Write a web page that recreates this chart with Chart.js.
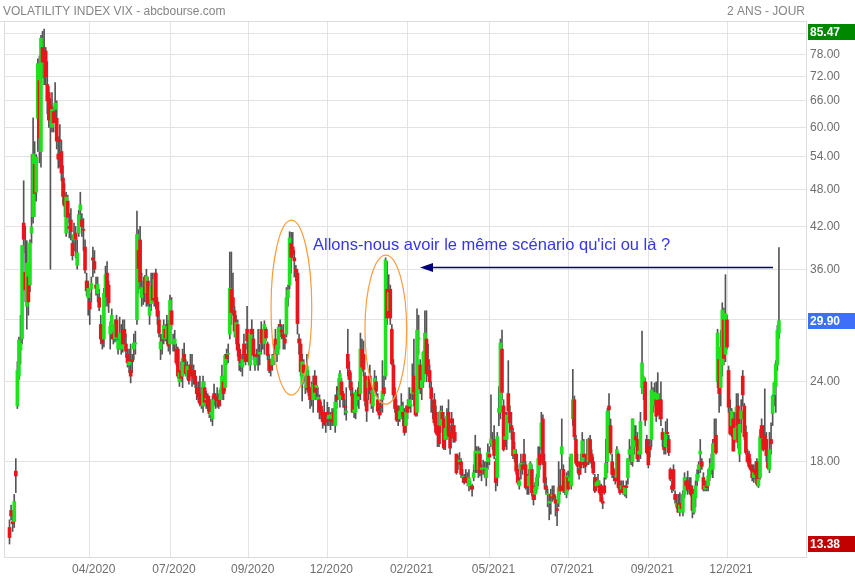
<!DOCTYPE html>
<html lang="fr">
<head>
<meta charset="UTF-8">
<title>Volatility Index VIX</title>
<script src="https://cdn.jsdelivr.net/npm/chart.js"></script>
<style>
body {
    margin: 0;
    background: #ffffff;
    overflow: hidden;
}
#vixChart {
    display: block;
}
</style>
</head>
<body>
<canvas id="vixChart" width="855" height="580"></canvas>

<script>
// daily candles, one row per session: [open, high, low, close]
const feb20 = [
[14.2,14.6,13.38,13.7],[15.1,15.4,14.6,14.8],[14.5,15.1,14.0,14.4],[14.5,16.0,14.2,15.6],[17.4,18.2,16.1,17.1],
[22.0,25.8,21.8,25.0],[24.5,28.2,24.2,27.9],[26.9,30.5,25.6,27.6],[28.0,39.2,27.5,39.2],[42.5,49.5,38.2,40.1]];
const mar20 = [
[35.6,42.0,32.0,33.4],[31.5,39.9,29.0,36.8],[35.0,35.4,30.5,32.0],[34.0,40.0,33.2,39.6],[41.0,54.4,39.5,41.9],
[43.5,62.1,42.5,54.5],[52.5,57.0,43.5,47.3],[47.5,54.4,46.0,53.9],[62.0,76.8,55.0,75.5],[71.0,77.6,52.8,57.8],
[55.0,83.6,52.0,82.7],[80.0,84.8,71.7,75.9],[77.0,85.47,70.0,76.5],[79.0,80.0,69.9,72.0],[70.0,76.0,63.0,66.0],
[68.0,69.5,60.0,61.6],[65.0,66.5,36.0,61.7],[60.0,68.0,59.0,64.0],[63.5,64.6,59.0,61.0],[64.0,70.5,61.0,65.5],
[62.0,66.0,55.5,57.1],[54.5,58.0,51.8,53.5]];
const apr20 = [
[57.4,60.6,52.0,57.1],[55.0,57.2,49.5,50.9],[50.0,52.3,45.5,46.8],[47.0,49.0,43.5,45.2],[41.0,47.5,40.5,46.7],
[46.0,47.0,42.5,43.4],[42.0,44.0,40.3,41.7],[43.0,44.8,40.0,41.2],[39.5,40.7,37.2,37.8],[40.0,42.5,38.5,40.8],
[41.0,42.0,37.5,40.1],[36.5,40.0,36.0,38.2],[41.0,44.5,40.5,43.8],[44.5,47.5,42.0,45.4],[43.0,44.0,40.5,42.0],
[41.5,43.2,38.5,41.4],[39.0,40.0,35.5,35.9],[34.5,35.5,32.7,33.3],[32.5,34.5,30.5,33.6],[32.0,33.0,29.5,31.2],
[33.5,35.0,32.0,34.2]];
const may20 = [
[37.5,39.0,35.0,37.2],[37.0,38.5,35.5,36.0],[34.0,35.0,32.8,33.6],[33.0,35.0,32.0,34.1],[32.5,33.5,31.0,31.4],
[29.5,30.5,27.5,28.0],[29.0,29.5,27.0,27.6],[28.0,33.6,27.2,33.0],[32.8,36.4,31.5,35.3],[35.5,37.0,31.5,32.6],
[34.0,34.5,30.8,31.9],[28.5,29.8,27.0,29.3],[28.8,31.2,28.0,30.5],[28.5,29.5,27.5,28.0],[28.0,30.0,27.7,29.5],
[30.0,30.5,27.8,28.2],[27.0,28.5,26.5,27.9],[28.0,30.3,27.0,28.6],[27.0,29.5,26.5,28.1],[28.9,30.0,26.7,27.5]];
const jun20 = [
[29.0,30.0,27.5,28.2],[27.5,28.5,26.2,26.8],[26.5,27.0,25.3,25.7],[25.5,27.0,24.8,25.8],[25.0,27.5,23.9,24.5],
[26.0,26.5,24.8,25.8],[27.0,28.5,26.0,27.6],[27.5,28.8,26.5,27.6],[30.0,44.4,29.5,40.8],[38.5,41.5,33.0,36.1],
[40.0,42.0,33.5,34.4],[32.5,35.5,31.5,33.7],[33.5,34.5,31.7,33.5],[35.0,35.2,32.0,32.9],[33.0,36.0,31.5,35.1],
[34.5,35.0,31.5,31.8],[30.5,32.5,29.5,31.4],[31.8,35.5,31.0,33.8],[34.0,35.5,32.0,32.2],[32.5,35.5,31.5,34.7],
[35.5,36.0,31.2,31.8],[32.0,32.5,29.5,30.4]];
const jul20 = [
[30.0,31.0,28.2,28.6],[27.0,28.5,26.0,27.7],[28.0,28.5,26.5,27.9],[28.0,30.0,27.5,29.4],[29.0,29.5,27.8,28.1],
[28.0,30.5,27.5,29.3],[29.5,30.0,26.8,27.3],[27.5,32.8,26.5,32.2],[31.0,32.5,29.0,29.5],[27.5,28.5,26.8,27.8],
[27.5,28.9,26.8,28.0],[27.0,27.5,25.5,25.7],[27.0,27.2,24.3,24.5],[24.0,25.0,23.6,24.8],[25.0,25.8,24.0,24.3],
[24.5,27.0,23.5,26.1],[26.5,27.6,25.5,25.8],[25.5,26.0,24.5,24.7],[24.5,25.8,24.2,25.4],[25.0,25.5,23.8,24.1],
[25.5,26.5,24.5,24.8],[25.0,26.5,23.6,24.5]];
const aug20 = [
[25.0,25.5,23.8,24.3],[24.5,25.0,23.5,23.8],[23.5,24.0,22.5,23.0],[23.5,24.0,22.3,22.7],[23.0,24.5,22.0,22.2],
[22.5,23.5,21.8,22.1],[22.0,24.5,21.5,24.0],[23.5,24.0,22.0,22.3],[22.5,23.2,21.8,22.6],[22.8,23.0,21.6,22.1],
[22.5,22.8,21.1,21.4],[21.3,22.5,20.8,21.5],[21.0,22.8,20.5,22.5],[23.0,23.8,22.0,22.7],[22.8,23.0,21.8,22.5],
[22.5,23.5,21.9,22.4],[22.5,23.0,21.8,22.0],[22.5,23.5,22.0,23.3],[23.0,25.5,22.5,24.5],[24.0,24.5,22.5,23.0],
[23.5,26.5,23.2,26.4]];
const sep20 = [
[26.5,27.0,25.5,26.1],[26.5,27.5,25.7,26.6],[28.5,38.3,28.0,33.6],[33.5,38.3,29.5,30.8],[32.5,35.5,30.5,31.5],
[31.0,31.5,28.2,28.8],[28.2,30.5,27.5,29.7],[29.5,30.0,26.3,26.9],[27.0,27.5,25.0,25.9],[25.5,26.5,24.9,25.6],
[25.3,26.5,24.5,26.0],[27.5,28.5,26.0,26.5],[26.5,27.5,25.5,25.8],[29.0,31.5,27.0,27.8],[27.5,28.0,25.5,25.8],
[25.5,29.0,25.0,28.6],[29.0,30.0,27.5,28.5],[28.0,29.0,26.0,26.4],[25.5,26.5,25.0,26.2],[26.5,27.0,25.5,26.3],
[26.5,29.0,25.0,26.4]];
const oct20 = [
[26.5,27.5,25.5,26.7],[29.0,29.8,26.5,27.6],[28.2,28.8,27.0,28.0],[27.5,29.9,26.5,29.5],[29.0,29.2,27.8,28.1],
[27.5,27.7,26.0,26.4],[26.0,26.5,24.8,25.0],[25.5,26.0,24.5,25.1],[25.5,26.5,25.0,26.1],[26.0,27.5,25.5,26.4],
[28.0,29.0,26.5,27.0],[26.5,27.6,25.8,27.4],[27.0,29.5,26.5,29.2],[29.5,30.0,28.2,29.4],[28.9,29.4,28.0,28.7],
[28.5,29.5,27.0,28.1],[28.0,28.5,27.0,27.6],[28.5,33.7,28.2,32.5],[32.5,34.0,31.5,33.4],[34.0,41.2,33.5,40.3],
[39.5,41.1,35.5,37.6],[39.0,41.1,37.5,38.0]];
const nov20 = [
[37.5,38.5,35.0,37.1],[36.0,36.5,34.5,35.6],[35.5,36.0,28.5,29.6],[28.0,28.5,26.5,27.6],[27.5,28.0,24.5,24.9],
[23.8,26.5,22.4,25.8],[25.5,26.0,24.0,24.8],[23.5,24.5,23.0,23.5],[23.5,26.5,23.3,25.4],[24.5,25.0,22.8,23.1],
[23.0,23.5,21.8,22.5],[23.5,24.0,22.0,22.7],[22.5,24.5,21.5,23.8],[24.5,25.0,22.5,23.1],[23.5,24.5,22.5,23.7],
[22.5,23.5,21.5,22.7],[22.5,22.9,21.0,21.6],[22.0,22.3,21.0,21.3],[21.5,21.7,20.3,20.8],[21.5,22.5,20.5,20.6]];
const dec20 = [
[21.0,21.5,20.0,20.8],[21.5,22.3,20.5,21.2],[21.0,21.9,20.5,21.3],[21.0,21.5,20.2,20.8],[21.0,21.8,20.5,21.3],
[21.5,21.8,20.5,20.7],[20.5,22.9,20.0,22.3],[22.8,23.6,21.8,22.5],[23.5,24.3,22.5,23.3],[22.5,25.0,21.9,24.7],
[24.0,24.3,22.5,22.9],[23.0,23.2,21.9,22.5],[22.0,22.5,21.3,21.9],[21.5,23.5,20.9,21.6],[26.5,29.0,24.5,25.2],
[25.0,25.8,23.5,24.2],[24.0,24.8,22.8,23.3],[23.0,23.5,21.5,21.5],[21.5,22.5,21.1,21.7],[21.5,23.3,21.0,23.1],
[22.5,23.0,22.0,22.8],[23.5,24.0,21.8,22.8]];
const jan21 = [
[23.0,28.6,22.5,27.0],[27.0,28.0,24.9,25.3],[26.5,27.8,24.5,25.1],[24.5,24.8,22.0,22.4],[22.5,23.5,20.8,21.6],
[23.5,24.5,22.5,24.1],[24.5,25.5,23.0,23.3],[23.0,23.5,21.8,22.2],[22.0,23.5,21.5,23.3],[23.5,25.0,23.0,24.3],
[24.0,24.5,22.8,23.2],[22.5,23.0,21.5,21.6],[21.5,22.2,21.0,21.3],[22.0,22.5,21.3,21.9],[22.5,25.9,21.5,23.2],
[23.5,24.5,22.8,23.0],[24.5,37.5,24.2,37.2],[33.5,37.0,29.5,30.2],[31.0,35.3,30.5,33.1]];
const feb21 = [
[33.5,34.0,29.5,30.2],[29.0,29.5,25.5,25.6],[25.5,26.0,22.5,22.9],[23.0,23.5,21.5,21.8],[22.0,22.5,20.8,20.9],
[21.5,22.0,20.5,21.2],[21.0,22.0,20.8,21.6],[21.5,23.0,21.0,22.0],[21.5,22.3,20.5,21.3],[21.5,21.8,19.8,20.0],
[20.5,22.0,20.0,21.5],[22.0,22.5,21.0,21.5],[22.0,23.5,21.8,22.5],[22.0,23.0,21.5,22.1],[23.0,25.6,22.5,23.5],
[24.5,28.0,22.0,23.1],[23.0,23.5,21.2,21.3],[21.5,31.2,21.2,28.9],[28.0,30.5,26.5,28.0]];
const mar21 = [
[25.5,26.0,23.0,23.4],[23.5,24.5,22.5,24.1],[24.0,26.8,23.5,26.7],[26.5,31.0,25.5,28.6],[28.0,31.0,24.0,24.7],
[26.0,27.5,24.5,25.5],[25.0,25.5,23.5,24.0],[23.5,24.0,21.5,22.6],[22.0,22.5,21.0,21.9],[22.5,23.0,20.5,20.7],
[21.5,22.0,19.9,20.0],[20.0,20.5,19.0,19.8],[20.5,21.5,19.0,19.2],[20.5,22.0,20.0,21.6],[21.5,22.0,20.5,21.0],
[21.0,21.5,18.8,18.9],[19.5,21.0,18.8,20.3],[20.0,21.8,19.5,21.2],[21.5,22.5,19.7,19.8],[20.0,20.5,18.5,18.9],
[21.0,21.5,20.0,20.7],[20.5,21.0,19.3,19.6],[20.0,20.5,19.3,19.4]];
const apr21 = [
[18.5,18.5,17.2,17.3],[18.0,18.4,17.5,17.9],[18.0,18.6,17.8,18.1],[18.0,18.2,17.0,17.2],[17.0,17.5,16.7,17.0],
[17.0,17.2,16.6,16.7],[17.0,17.5,16.7,16.9],[17.0,17.3,16.5,16.7],[16.5,17.5,16.2,17.0],[16.5,16.8,16.3,16.6],
[16.5,16.6,15.9,16.3],[17.0,17.8,16.8,17.3],[17.5,19.8,17.3,18.7],[18.5,19.0,17.3,17.5],[17.5,19.0,17.0,18.7],
[18.5,18.9,17.1,17.3],[17.5,17.8,16.8,17.6],[17.5,18.1,17.2,17.6],[17.5,18.0,17.0,17.3],[17.0,18.0,16.5,17.6],
[18.0,19.2,17.5,18.6]];
const may21 = [
[18.5,19.0,17.8,18.3],[19.2,22.9,19.0,19.5],[19.0,20.0,18.8,19.2],[19.5,20.5,18.2,18.4],[18.0,18.2,16.2,16.7],
[17.0,20.0,16.5,19.7],[21.5,23.6,20.5,21.8],[21.5,28.0,21.0,27.6],[27.0,28.9,22.5,23.1],[22.0,22.5,18.7,18.8],
[19.5,21.5,19.0,19.7],[19.5,21.5,18.8,21.3],[23.0,25.9,21.0,21.6],[21.5,22.0,20.0,20.7],[20.5,21.5,19.5,20.2],
[20.0,20.3,18.2,18.4],[18.5,19.3,18.0,18.8],[18.5,18.8,17.2,17.4],[17.5,17.8,16.6,16.7],[16.5,17.0,16.3,16.8]];
const jun21 = [
[17.5,18.5,16.9,17.9],[17.8,18.0,17.2,17.5],[18.5,19.5,17.8,18.0],[17.8,18.0,16.3,16.4],[16.5,17.2,16.0,16.4],
[16.5,17.5,16.0,17.1],[17.0,18.0,16.8,17.9],[17.5,17.8,15.9,16.1],[16.0,16.5,15.4,15.7],[16.0,16.7,15.7,16.4],
[16.3,17.2,16.1,17.0],[17.0,19.0,16.5,18.2],[18.5,19.0,17.5,17.8],[19.0,21.5,18.8,20.7],[21.0,21.3,17.8,17.9],
[18.0,18.5,16.3,16.7],[16.5,17.0,16.0,16.3],[16.0,16.3,15.3,16.0],[15.5,16.0,14.6,15.6],[16.0,16.3,14.9,15.8],
[15.9,16.5,15.6,16.0],[16.0,16.5,15.7,15.8]];
const jul21 = [
[15.7,15.9,14.8,15.5],[15.2,15.5,14.3,15.1],[15.5,18.0,15.3,16.4],[16.5,17.5,16.0,16.2],[18.5,21.0,17.5,19.0],
[17.5,17.8,16.1,16.2],[16.5,16.8,16.0,16.2],[16.0,17.3,15.8,17.1],[17.0,17.4,16.2,16.3],[16.8,18.3,16.5,17.0],
[16.5,18.5,16.3,18.5],[21.0,25.1,20.5,22.5],[22.5,22.8,19.5,19.7],[19.5,19.8,17.8,17.9],[18.0,18.5,17.3,17.7],
[17.5,17.6,16.9,17.2],[18.0,18.5,17.2,17.6],[18.0,20.0,17.8,19.4],[18.5,19.5,17.6,18.3],[18.0,18.3,17.3,17.7],
[18.5,19.5,17.8,18.2]];
const aug21 = [
[18.0,19.6,17.8,19.5],[19.5,19.8,17.9,18.0],[18.5,18.8,17.6,18.0],[18.0,18.3,17.2,17.3],[17.0,17.2,16.1,16.2],
[16.5,17.0,16.2,16.7],[16.5,17.2,16.4,16.8],[16.5,16.8,16.0,16.1],[16.5,16.6,15.6,15.6],[15.6,15.8,15.2,15.5],
[16.5,17.0,16.0,16.1],[17.0,19.5,16.9,17.9],[18.0,21.8,17.3,21.6],[22.0,23.0,20.5,21.7],[20.5,21.0,18.5,18.6],
[18.0,18.5,17.0,17.2],[17.5,17.6,16.8,17.2],[17.0,17.3,16.6,16.8],[17.0,19.0,16.8,18.8],[18.5,18.6,16.3,16.4],
[16.5,16.8,16.0,16.1],[16.3,16.8,16.1,16.5]];
const sep21 = [
[16.5,16.8,16.0,16.1],[16.0,16.5,15.9,16.4],[16.5,16.8,15.8,16.4],[17.0,18.2,16.6,18.2],[18.5,19.5,18.0,18.8],
[18.5,19.0,17.8,18.7],[18.0,21.0,17.7,21.0],[19.0,20.5,18.5,19.4],[19.7,20.5,19.0,19.5],[19.5,20.0,18.0,18.2],
[18.5,19.0,18.0,18.7],[18.5,21.5,18.2,20.8],[23.5,28.8,23.0,25.7],[23.0,24.5,22.5,24.4],[24.0,24.3,20.5,20.9],
[19.5,19.8,18.5,18.6],[19.0,19.5,17.6,17.8],[19.0,19.5,18.3,18.8],[19.5,24.0,19.0,23.3],[22.0,23.5,21.5,22.6],
[22.5,23.9,22.0,23.1]];
const oct21 = [
[22.5,24.0,20.8,21.2],[22.5,24.8,21.5,23.0],[22.5,23.0,21.0,21.3],[22.5,24.0,20.5,21.0],[20.0,20.3,19.0,19.5],
[19.0,19.5,18.5,18.8],[19.0,20.8,18.5,20.0],[20.0,21.0,19.3,19.9],[19.5,19.8,18.4,18.6],[17.5,17.6,16.8,16.9],
[16.5,16.8,16.1,16.3],[17.5,17.8,16.2,16.3],[16.0,16.2,15.5,15.7],[15.3,16.0,15.2,15.5],[15.5,16.0,15.0,15.0],
[15.0,16.1,14.8,15.4],[15.5,16.0,15.1,15.2],[15.0,16.2,14.8,16.0],[16.0,17.3,15.8,17.0],[16.8,17.0,16.2,16.5],
[16.8,17.4,16.0,16.3]];
const nov21 = [
[16.5,17.0,16.1,16.4],[16.5,17.0,15.9,16.0],[16.3,16.5,14.7,15.1],[15.0,16.2,14.9,16.0],[15.8,16.8,15.3,16.5],
[16.8,17.5,16.5,17.2],[17.5,18.0,17.0,17.8],[18.5,19.5,17.3,18.7],[18.0,18.2,17.5,17.7],[17.0,17.3,16.2,16.3],
[16.3,16.8,16.2,16.5],[16.5,16.8,16.2,16.4],[16.5,17.5,16.2,17.1],[17.0,18.2,16.8,17.6],[17.5,18.5,17.2,17.9],
[17.5,19.5,17.0,19.2],[19.5,21.0,19.0,19.4],[19.8,21.0,18.5,18.6],[24.0,29.0,23.5,28.6],[26.0,26.5,21.5,23.0],
[23.5,28.9,22.0,27.2]];
const dec21 = [
[25.5,31.9,24.5,31.1],[30.0,31.3,25.5,26.1],[26.5,35.3,25.8,30.7],[30.0,30.5,27.0,27.2],[25.0,25.4,21.5,21.9],
[21.5,22.5,19.8,19.9],[20.5,21.8,19.7,21.6],[21.0,21.5,18.7,18.7],[19.5,21.5,19.3,20.3],[21.5,23.0,20.5,21.9],
[22.0,23.0,18.9,19.3],[18.5,21.0,18.0,20.6],[21.0,22.5,20.0,21.6],[24.5,25.0,22.0,22.9],[22.0,22.2,19.5,19.7],
[20.0,20.5,18.5,18.6],[18.5,18.8,17.9,18.0],[18.5,18.7,17.6,17.7],[17.8,18.2,17.4,17.5],[17.5,17.8,16.8,17.0],
[17.0,17.8,16.7,17.3],[17.5,18.0,16.9,17.2]];
const jan22 = [
[18.0,18.2,16.5,16.6],[16.5,18.0,16.4,16.9],[17.0,20.2,16.9,19.7],[20.5,21.0,19.2,19.6],[19.5,20.5,18.7,18.8],
[19.8,23.4,19.0,19.4],[19.5,20.0,18.0,18.4],[18.0,18.5,17.5,17.6],[17.5,20.0,17.3,18.8],[19.5,20.7,18.5,19.2],
[21.4,22.9,20.5,22.8],[22.9,24.0,22.0,23.9],[23.6,25.9,21.5,25.6],[25.5,29.4,25.0,28.9],[28.6,38.9,28.0,29.9]];

// x axis: session index of each grid line and its label
const xTickIdx = [51, 102, 152, 202, 253, 305, 355, 406, 456];
const xTickLabels = ['04/2020','07/2020','09/2020','12/2020','02/2021','05/2021','07/2021','09/2021','12/2021'];
// y axis (log) grid values
const yTicks = [18, 24, 30, 36, 42, 48, 54, 60, 66, 72, 78, 84];

const upColor = '#1ee21e';
const downColor = '#e8161b';
const wickColor = '#555555';

const candles = [].concat(feb20, mar20, apr20, may20, jun20, jul20, aug20, sep20, oct20, nov20, dec20,
    jan21, feb21, mar21, apr21, may21, jun21, jul21, aug21, sep21, oct21, nov21, dec21, jan22);

const wicks = candles.map((c, i) => ({x: i, y: [c[2], c[1]]}));
const bodies = candles.map((c, i) => ({x: i, y: [c[0], c[3]]}));
const bodyColors = candles.map(c => c[3] >= c[0] ? upColor : downColor);

const maxHigh = Math.max(...candles.map(c => c[1]));
const minLow = Math.min(...candles.map(c => c[2]));
const lastClose = candles[candles.length - 1][3];

// annotation anchors, in session index / index value
const ellipses = [
    {x0: 166.2, x1: 192.1, top: 42.96, bottom: 22.88},
    {x0: 225.9, x1: 252.4, top: 37.88, bottom: 22.15}
];
const arrow = {from: 485.2, to: 260.9, value: 36.3};
const note = {text: "Allons-nous avoir le même scénario qu'ici ou là ?", x: 192.9, value: 38.56};

const overlay = {
    id: 'overlay',
    afterDraw(chart) {
        const ctx = chart.ctx;
        const a = chart.chartArea;
        const xs = chart.scales.x;
        const ys = chart.scales.y;
        ctx.save();

        // frame (top and left)
        ctx.strokeStyle = '#dcdcdc';
        ctx.lineWidth = 1;
        ctx.beginPath();
        ctx.moveTo(0, a.top + 0.5);
        ctx.lineTo(a.right, a.top + 0.5);
        ctx.moveTo(a.left + 0.5, a.top);
        ctx.lineTo(a.left + 0.5, a.bottom);
        ctx.stroke();

        // header
        ctx.font = '12px Arial, "Liberation Sans", sans-serif';
        ctx.fillStyle = '#858585';
        ctx.textBaseline = 'alphabetic';
        ctx.textAlign = 'left';
        ctx.fillText('VOLATILITY INDEX VIX - abcbourse.com', 3, 15);
        ctx.textAlign = 'right';
        ctx.fillText('2 ANS - JOUR', a.right - 1, 15);

        // orange ellipses
        ctx.strokeStyle = '#ff9a3d';
        ctx.lineWidth = 1.2;
        ellipses.forEach(e => {
            const x0 = xs.getPixelForValue(e.x0), x1 = xs.getPixelForValue(e.x1);
            const y0 = ys.getPixelForValue(e.top), y1 = ys.getPixelForValue(e.bottom);
            ctx.beginPath();
            ctx.ellipse((x0 + x1) / 2, (y0 + y1) / 2, (x1 - x0) / 2, (y1 - y0) / 2, 0, 0, Math.PI * 2);
            ctx.stroke();
        });

        // arrow
        const ay = Math.round(ys.getPixelForValue(arrow.value)) + 0.5;
        const ax0 = xs.getPixelForValue(arrow.from);
        const ax1 = xs.getPixelForValue(arrow.to);
        ctx.strokeStyle = '#00007a';
        ctx.fillStyle = '#00007a';
        ctx.lineWidth = 1.5;
        ctx.beginPath();
        ctx.moveTo(ax0, ay);
        ctx.lineTo(ax1 + 10, ay);
        ctx.stroke();
        ctx.beginPath();
        ctx.moveTo(ax1, ay);
        ctx.lineTo(ax1 + 13, ay - 4.5);
        ctx.lineTo(ax1 + 13, ay + 4.5);
        ctx.closePath();
        ctx.fill();

        // note
        ctx.font = '16.5px Arial, "Liberation Sans", sans-serif';
        ctx.fillStyle = '#3535ee';
        ctx.textAlign = 'left';
        ctx.fillText(note.text, xs.getPixelForValue(note.x), ys.getPixelForValue(note.value));

        // value badges on the right axis
        const badges = [
            {v: maxHigh, bg: '#008800'},
            {v: lastClose, bg: '#3d6ff8'},
            {v: minLow, bg: '#c20000'}
        ];
        ctx.font = 'bold 12px Arial, "Liberation Sans", sans-serif';
        ctx.textBaseline = 'middle';
        badges.forEach(b => {
            let cy = ys.getPixelForValue(b.v);
            cy = Math.max(cy, a.top + 11);
            cy = Math.min(cy, a.bottom - 13);
            ctx.fillStyle = b.bg;
            ctx.fillRect(a.right + 2, Math.round(cy - 8), chart.width - a.right - 2, 16);
            ctx.fillStyle = '#ffffff';
            ctx.fillText(b.v.toFixed(2), a.right + 4, Math.round(cy) + 0.5);
        });
        ctx.restore();
    }
};

Chart.defaults.font.family = 'Arial, "Liberation Sans", sans-serif';
Chart.defaults.font.size = 12;
Chart.defaults.color = '#6e6e6e';

const ctx = document.getElementById('vixChart').getContext('2d');
new Chart(ctx, {
    type: 'bar',
    data: {
        datasets: [
            {
                label: 'body',
                data: bodies,
                backgroundColor: bodyColors,
                barThickness: 3,
                minBarLength: 1,
                grouped: false,
                order: 0
            },
            {
                label: 'wick',
                data: wicks,
                backgroundColor: wickColor,
                barThickness: 1,
                grouped: false,
                order: 1
            }
        ]
    },
    options: {
        responsive: false,
        animation: false,
        devicePixelRatio: 1,
        layout: {padding: {left: 4, top: 21, right: 0, bottom: 0}},
        plugins: {
            legend: {display: false},
            tooltip: {enabled: false}
        },
        scales: {
            x: {
                type: 'linear',
                min: -3.5,
                max: 506.2,
                offset: false,
                afterBuildTicks: scale => { scale.ticks = xTickIdx.map(v => ({value: v})); },
                afterFit: scale => { scale.height = 23; },
                grid: {color: '#e3e3e3', offset: false, drawTicks: false},
                border: {color: '#dcdcdc'},
                ticks: {
                    autoSkip: false,
                    maxRotation: 0,
                    padding: 5,
                    labelOffset: 4,
                    color: '#6e6e6e',
                    callback: (v, i) => xTickLabels[i]
                }
            },
            y: {
                type: 'logarithmic',
                position: 'right',
                min: 12.77,
                max: 88,
                afterBuildTicks: scale => { scale.ticks = yTicks.map(v => ({value: v})); },
                afterFit: scale => { scale.width = 49; },
                grid: {color: '#e3e3e3', drawTicks: false},
                border: {color: '#dcdcdc'},
                ticks: {
                    autoSkip: false,
                    padding: 4,
                    color: '#6e6e6e',
                    callback: v => Number(v).toFixed(2)
                }
            }
        }
    },
    plugins: [overlay]
});
</script>
</body>
</html>
